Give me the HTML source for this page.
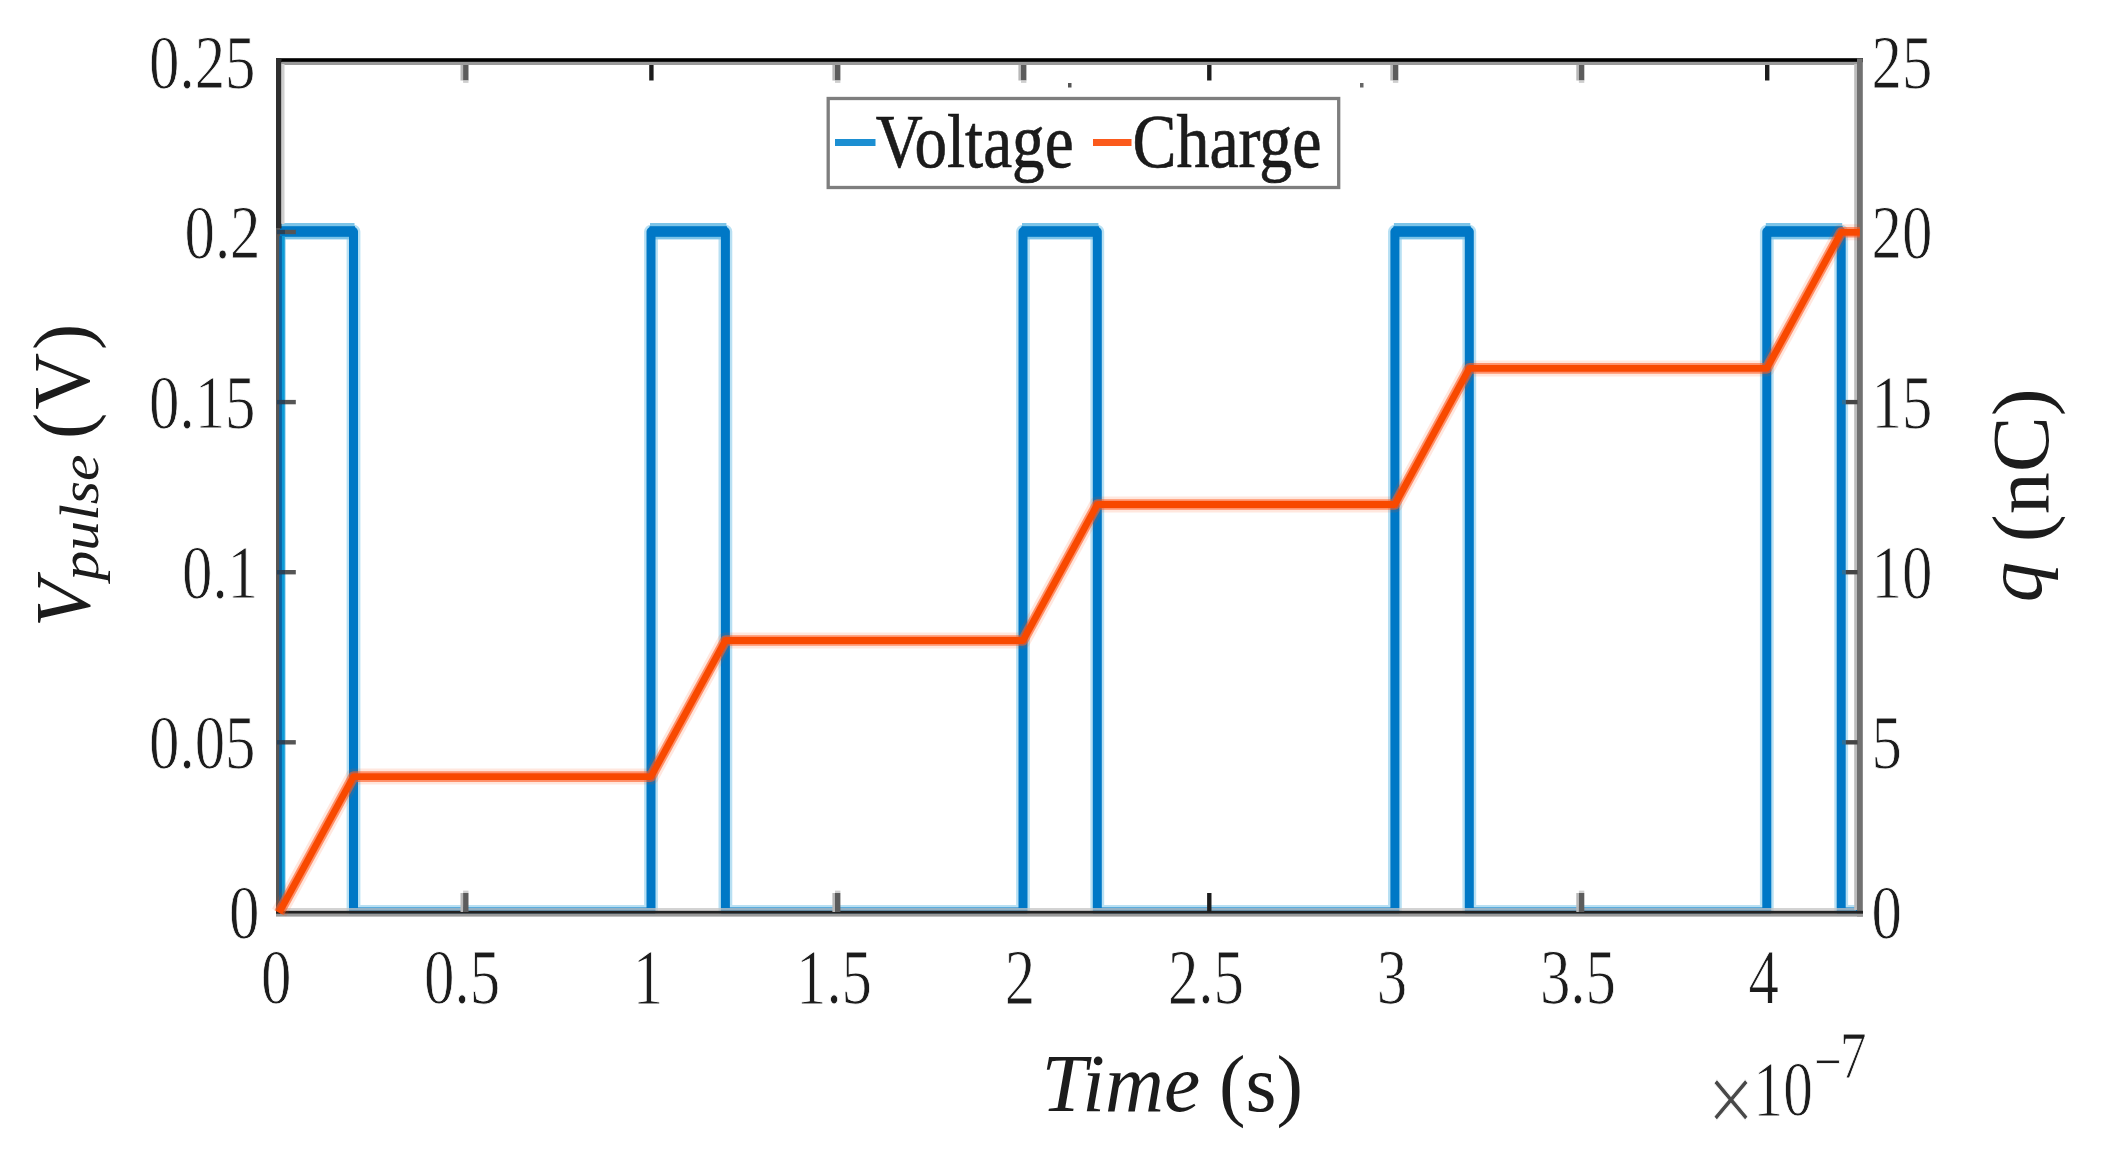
<!DOCTYPE html>
<html lang="en"><head><meta charset="utf-8"><title>Voltage and charge versus time</title>
<style>html,body{margin:0;padding:0;background:#fff}svg{display:block}text{font-family:"Liberation Serif","DejaVu Serif",serif;fill:#1a1a1a}.tk{stroke:#fff;stroke-width:0.9px}.lg{stroke:#1a1a1a;stroke-width:0.7px}</style></head><body>
<svg width="2104" height="1158" viewBox="0 0 2104 1158">
<defs><filter id="soft" x="-5%" y="-5%" width="110%" height="110%"><feGaussianBlur stdDeviation="0.7"/></filter><filter id="softt" x="-5%" y="-20%" width="110%" height="140%"><feGaussianBlur stdDeviation="0.7"/></filter></defs>
<rect width="2104" height="1158" fill="#fff"/>
<g filter="url(#soft)">
<rect x="460.5" y="62.0" width="2.6" height="18.5" fill="#b8b8b8"/>
<rect x="463.1" y="62.0" width="5.4" height="18.5" fill="#5c5c5c"/>
<rect x="463.1" y="80.5" width="5.4" height="2.4" fill="#cfcfcf"/>
<rect x="649.2" y="62.0" width="4.4" height="18.5" fill="#1e1e1e"/>
<rect x="649.2" y="893.0" width="4.4" height="19.0" fill="#1e1e1e"/>
<rect x="832.4" y="62.0" width="2.6" height="18.5" fill="#b8b8b8"/>
<rect x="835.0" y="62.0" width="5.4" height="18.5" fill="#5c5c5c"/>
<rect x="835.0" y="80.5" width="5.4" height="2.4" fill="#cfcfcf"/>
<rect x="1018.4" y="62.0" width="2.6" height="18.5" fill="#b8b8b8"/>
<rect x="1021.0" y="62.0" width="5.4" height="18.5" fill="#5c5c5c"/>
<rect x="1021.0" y="80.5" width="5.4" height="2.4" fill="#cfcfcf"/>
<rect x="1018.4" y="893.0" width="2.6" height="19.0" fill="#b8b8b8"/>
<rect x="1021.0" y="893.0" width="5.4" height="19.0" fill="#5c5c5c"/>
<rect x="1021.0" y="890.6" width="5.4" height="2.4" fill="#cfcfcf"/>
<rect x="1207.1" y="62.0" width="4.4" height="18.5" fill="#1e1e1e"/>
<rect x="1390.3" y="62.0" width="2.6" height="18.5" fill="#b8b8b8"/>
<rect x="1392.9" y="62.0" width="5.4" height="18.5" fill="#5c5c5c"/>
<rect x="1392.9" y="80.5" width="5.4" height="2.4" fill="#cfcfcf"/>
<rect x="1390.3" y="893.0" width="2.6" height="19.0" fill="#b8b8b8"/>
<rect x="1392.9" y="893.0" width="5.4" height="19.0" fill="#5c5c5c"/>
<rect x="1392.9" y="890.6" width="5.4" height="2.4" fill="#cfcfcf"/>
<rect x="1576.3" y="62.0" width="2.6" height="18.5" fill="#b8b8b8"/>
<rect x="1578.9" y="62.0" width="5.4" height="18.5" fill="#5c5c5c"/>
<rect x="1578.9" y="80.5" width="5.4" height="2.4" fill="#cfcfcf"/>
<rect x="1765.0" y="62.0" width="4.4" height="18.5" fill="#1e1e1e"/>
<rect x="1765.0" y="893.0" width="4.4" height="19.0" fill="#1e1e1e"/>
</g>
<clipPath id="cb"><rect x="278.5" y="0" width="1580" height="913.5"/></clipPath>
<g filter="url(#soft)" clip-path="url(#cb)">
<path d="M279.1 912.0 L279.1 912.0 L279.1 231.6 L353.5 231.6 L353.5 912.0 L651.0 912.0 L651.0 231.6 L725.4 231.6 L725.4 912.0 L1023.0 912.0 L1023.0 231.6 L1097.3 231.6 L1097.3 912.0 L1394.9 912.0 L1394.9 231.6 L1469.3 231.6 L1469.3 912.0 L1766.8 912.0 L1766.8 231.6 L1841.2 231.6 L1841.2 912.0 L1859.8 912.0" fill="none" stroke="#b8e0f3" stroke-width="13.8" stroke-linejoin="round"/>
<rect x="278.1" y="223.0" width="76.4" height="16.4" fill="#7cc4e8"/>
<rect x="650.0" y="223.0" width="76.4" height="16.4" fill="#7cc4e8"/>
<rect x="1022.0" y="223.0" width="76.4" height="16.4" fill="#7cc4e8"/>
<rect x="1393.9" y="223.0" width="76.4" height="16.4" fill="#7cc4e8"/>
<rect x="1765.8" y="223.0" width="76.4" height="16.4" fill="#7cc4e8"/>
<path d="M279.1 912.0 L279.1 912.0 L279.1 231.6 L353.5 231.6 L353.5 912.0 L651.0 912.0 L651.0 231.6 L725.4 231.6 L725.4 912.0 L1023.0 912.0 L1023.0 231.6 L1097.3 231.6 L1097.3 912.0 L1394.9 912.0 L1394.9 231.6 L1469.3 231.6 L1469.3 912.0 L1766.8 912.0 L1766.8 231.6 L1841.2 231.6 L1841.2 912.0 L1859.8 912.0" fill="none" stroke="#0078C6" stroke-width="9" stroke-linejoin="round"/>
<rect x="277.6" y="226.2" width="77.4" height="10.6" fill="#0078C6"/>
<rect x="649.5" y="226.2" width="77.4" height="10.6" fill="#0078C6"/>
<rect x="1021.5" y="226.2" width="77.4" height="10.6" fill="#0078C6"/>
<rect x="1393.4" y="226.2" width="77.4" height="10.6" fill="#0078C6"/>
<rect x="1765.3" y="226.2" width="77.4" height="10.6" fill="#0078C6"/>
</g>
<g filter="url(#soft)">
<rect x="276" y="58.2" width="1587" height="4" fill="#000"/>
<rect x="282" y="61.8" width="1576" height="3.2" fill="#9a9a9a"/>
<rect x="276" y="58.5" width="5.5" height="170" fill="#2e2e2e"/>
<rect x="276" y="228" width="4" height="688" fill="#585452"/>
<rect x="281.5" y="64" width="3" height="160" fill="#cfcfcf"/>
<rect x="1854.2" y="64" width="3" height="846" fill="#bdbdbd"/>
<rect x="1857" y="58.5" width="5.8" height="858" fill="#717171"/>
<rect x="282" y="908" width="1574" height="2.8" fill="#c4c4c4" opacity="0.75"/>
<rect x="276" y="910.8" width="1587" height="3" fill="#222"/>
<rect x="276" y="913.8" width="1587" height="2.8" fill="#9a9a9a"/>
</g>
<g filter="url(#soft)"><rect x="281.6" y="236" width="3.2" height="673" fill="#0a9ad6"/><rect x="279.2" y="236" width="2.6" height="673" fill="#0b62a0"/>
<rect x="460.5" y="893.0" width="2.6" height="19.0" fill="#b8b8b8"/>
<rect x="463.1" y="893.0" width="5.4" height="19.0" fill="#5c5c5c"/>
<rect x="463.1" y="890.6" width="5.4" height="2.4" fill="#cfcfcf"/>
<rect x="832.4" y="893.0" width="2.6" height="19.0" fill="#b8b8b8"/>
<rect x="835.0" y="893.0" width="5.4" height="19.0" fill="#5c5c5c"/>
<rect x="835.0" y="890.6" width="5.4" height="2.4" fill="#cfcfcf"/>
<rect x="1207.1" y="893.0" width="4.4" height="19.0" fill="#1e1e1e"/>
<rect x="1576.3" y="893.0" width="2.6" height="19.0" fill="#b8b8b8"/>
<rect x="1578.9" y="893.0" width="5.4" height="19.0" fill="#5c5c5c"/>
<rect x="1578.9" y="890.6" width="5.4" height="2.4" fill="#cfcfcf"/>
<rect x="1845.5" y="740.1" width="12" height="4.4" fill="#454545"/>
<rect x="1842" y="740.1" width="3.5" height="4.4" fill="#2c6f9a"/>
<rect x="277" y="740.1" width="8" height="4.4" fill="#2a4258"/>
<rect x="285" y="740.1" width="10.8" height="4.4" fill="#555"/>
<rect x="1845.5" y="570.0" width="12" height="4.4" fill="#454545"/>
<rect x="1842" y="570.0" width="3.5" height="4.4" fill="#2c6f9a"/>
<rect x="277" y="570.0" width="8" height="4.4" fill="#2a4258"/>
<rect x="285" y="570.0" width="10.8" height="4.4" fill="#555"/>
<rect x="1845.5" y="399.9" width="12" height="4.4" fill="#454545"/>
<rect x="1842" y="399.9" width="3.5" height="4.4" fill="#2c6f9a"/>
<rect x="277" y="399.9" width="8" height="4.4" fill="#2a4258"/>
<rect x="285" y="399.9" width="10.8" height="4.4" fill="#555"/>
<rect x="1845.5" y="229.8" width="12" height="4.4" fill="#454545"/>
<rect x="1842" y="229.8" width="3.5" height="4.4" fill="#2c6f9a"/>
<rect x="277" y="229.8" width="8" height="4.4" fill="#2a4258"/>
<rect x="285" y="229.8" width="10.8" height="4.4" fill="#555"/>
</g>
<g filter="url(#soft)">
<path d="M279.1 912.7 L353.5 776.6 L651.0 776.6 L725.4 640.5 L1023.0 640.5 L1097.3 504.5 L1394.9 504.5 L1469.3 368.4 L1766.8 368.4 L1841.2 232.3 L1859.8 232.3" fill="none" stroke="#ff4800" stroke-opacity="0.13" stroke-width="16" stroke-linejoin="round"/>
<path d="M279.1 912.7 L353.5 776.6 L651.0 776.6 L725.4 640.5 L1023.0 640.5 L1097.3 504.5 L1394.9 504.5 L1469.3 368.4 L1766.8 368.4 L1841.2 232.3 L1859.8 232.3" fill="none" stroke="#ff5a1e" stroke-opacity="0.6" stroke-width="10.6" stroke-linejoin="round"/>
<path d="M279.1 912.7 L353.5 776.6 L651.0 776.6 L725.4 640.5 L1023.0 640.5 L1097.3 504.5 L1394.9 504.5 L1469.3 368.4 L1766.8 368.4 L1841.2 232.3 L1859.8 232.3" fill="none" stroke="#F84A06" stroke-width="6.8" stroke-linejoin="round"/>
</g>
<rect x="1068" y="83" width="3.5" height="4.5" fill="#555"/><rect x="1360" y="83" width="3.5" height="4.5" fill="#666"/>
<g filter="url(#soft)">
<rect x="828.2" y="98.5" width="510.5" height="89" fill="#fff" stroke="#7e7e7e" stroke-width="3.3"/>
<rect x="835" y="139" width="40.5" height="7" fill="#1a8fd2"/>
<rect x="1093" y="139" width="38.5" height="7" fill="#fb5a1c"/>
</g>
<g filter="url(#softt)">
<text transform="translate(875.8 167.3) scale(0.857 1.000)" font-size="76.0" text-anchor="start"  class="lg">Voltage</text>
<text transform="translate(1132.5 167.3) scale(0.867 1.000)" font-size="76.0" text-anchor="start"  class="lg">Charge</text>
<text transform="translate(255.5 87.5) scale(0.790 1.000)" font-size="77.0" text-anchor="end"  class="tk">0.25</text>
<text transform="translate(260.5 257.6) scale(0.790 1.000)" font-size="77.0" text-anchor="end"  class="tk">0.2</text>
<text transform="translate(255.5 427.7) scale(0.790 1.000)" font-size="77.0" text-anchor="end"  class="tk">0.15</text>
<text transform="translate(258.0 597.8) scale(0.790 1.000)" font-size="77.0" text-anchor="end"  class="tk">0.1</text>
<text transform="translate(255.5 767.9) scale(0.790 1.000)" font-size="77.0" text-anchor="end"  class="tk">0.05</text>
<text transform="translate(259.5 938.0) scale(0.790 1.000)" font-size="77.0" text-anchor="end"  class="tk">0</text>
<text transform="translate(1871.5 87.5) scale(0.790 1.000)" font-size="77.0" text-anchor="start"  class="tk">25</text>
<text transform="translate(1871.5 257.6) scale(0.790 1.000)" font-size="77.0" text-anchor="start"  class="tk">20</text>
<text transform="translate(1871.5 427.7) scale(0.790 1.000)" font-size="77.0" text-anchor="start"  class="tk">15</text>
<text transform="translate(1871.5 597.8) scale(0.790 1.000)" font-size="77.0" text-anchor="start"  class="tk">10</text>
<text transform="translate(1871.5 767.9) scale(0.790 1.000)" font-size="77.0" text-anchor="start"  class="tk">5</text>
<text transform="translate(1871.5 938.0) scale(0.790 1.000)" font-size="77.0" text-anchor="start"  class="tk">0</text>
<text transform="translate(276.1 1002.5) scale(0.780 1.000)" font-size="78.0" text-anchor="middle"  class="tk">0</text>
<text transform="translate(462.1 1002.5) scale(0.780 1.000)" font-size="78.0" text-anchor="middle"  class="tk">0.5</text>
<text transform="translate(648.0 1002.5) scale(0.780 1.000)" font-size="78.0" text-anchor="middle"  class="tk">1</text>
<text transform="translate(834.0 1002.5) scale(0.780 1.000)" font-size="78.0" text-anchor="middle"  class="tk">1.5</text>
<text transform="translate(1020.0 1002.5) scale(0.780 1.000)" font-size="78.0" text-anchor="middle"  class="tk">2</text>
<text transform="translate(1205.9 1002.5) scale(0.780 1.000)" font-size="78.0" text-anchor="middle"  class="tk">2.5</text>
<text transform="translate(1391.9 1002.5) scale(0.780 1.000)" font-size="78.0" text-anchor="middle"  class="tk">3</text>
<text transform="translate(1577.9 1002.5) scale(0.780 1.000)" font-size="78.0" text-anchor="middle"  class="tk">3.5</text>
<text transform="translate(1763.8 1002.5) scale(0.780 1.000)" font-size="78.0" text-anchor="middle"  class="tk">4</text>
<text transform="translate(1041.5 1111.3) scale(0.995 1.000)" font-size="82.0" text-anchor="start" font-style="italic" >Time</text>
<text transform="translate(1219.0 1111.0) scale(0.995 1.000)" font-size="80.0" text-anchor="start"  >(s)</text>
<text transform="translate(1707.3 1133.0) scale(0.840 1.000)" font-size="100.0" text-anchor="start"  class="tk" style="fill:#4a4a4a">×</text>
<text transform="translate(1753.5 1115.0) scale(0.760 1.000)" font-size="78.0" text-anchor="start"  class="tk">10</text>
<text transform="translate(1814.2 1083.8) scale(0.730 1.000)" font-size="67.0" text-anchor="start"  class="tk">−</text>
<text transform="translate(1839.8 1077.5) scale(0.800 1.000)" font-size="67.0" text-anchor="start"  class="tk">7</text>
<g transform="translate(89 627) rotate(-90)">
<text transform="translate(0.0 0.0) scale(1.000 1.000)" font-size="78.0" text-anchor="start" font-style="italic" >V</text>
<text transform="translate(46.5 9.0) scale(1.085 1.000)" font-size="55.0" text-anchor="start" font-style="italic" >pulse</text>
<text transform="translate(188.0 0.0) scale(0.985 1.000)" font-size="80.0" text-anchor="start"  letter-spacing="3">(V)</text>
</g>
<g transform="translate(2048 601) rotate(-90)">
<text transform="translate(-1.2 -6.8) scale(1.000 1.000)" font-size="81.0" text-anchor="start" font-style="italic" >q</text>
<text transform="translate(58.8 0.0) scale(1.050 1.000)" font-size="80.0" text-anchor="start"  >(nC)</text>
</g>
</g>
</svg></body></html>
